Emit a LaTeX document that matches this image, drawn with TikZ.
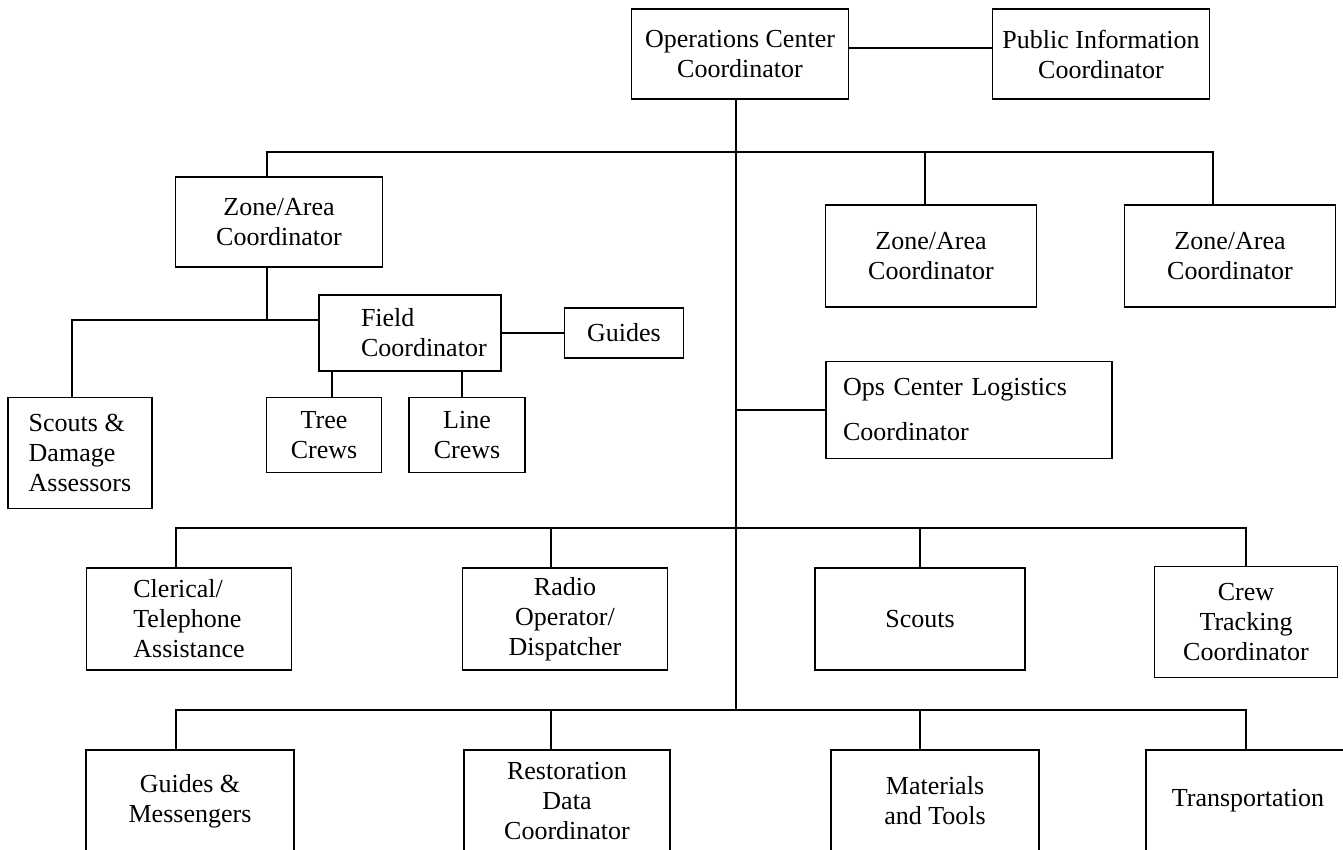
\documentclass[tikz,border=0pt]{standalone}
\usepackage{fontspec}
\setmainfont{Liberation Serif}
\hfuzz=100pt
\begin{document}
\begin{tikzpicture}[x=1pt,y=-1pt,font=\fontsize{26}{30}\selectfont]
        \tikzstyle{post}=[rectangle,draw=black,line width=1.5pt,inner sep=0pt,align=center]
        \tikzstyle{edge}=[draw,line width=1.5pt]
        \useasboundingbox (0,0) rectangle (1343,850);

        % top of the chart
        \node [post,minimum width=217pt,minimum height=90pt] (ops) at (740,54) {Operations Center\\Coordinator};
        \node [post,minimum width=217pt,minimum height=90pt] (pub) at (1101,54) {Public Information\\Coordinator};

        % zone coordinators
        \node [post,minimum width=207pt,minimum height=90pt] (zone1) at (279,222) {Zone/Area\\Coordinator};
        \node [post,minimum width=211pt,minimum height=102pt] (zone2) at (931,256) {Zone/Area\\Coordinator};
        \node [post,minimum width=211pt,minimum height=102pt] (zone3) at (1230,256) {Zone/Area\\Coordinator};

        % field level
        \node [post,minimum width=182pt,minimum height=76pt,align=left,text width=98pt,inner xsep=42pt] (field) at (410,333) {Field\\Coordinator};
        \node [post,minimum width=119pt,minimum height=50pt] (guides) at (624,333) {Guides};
        \node [post,minimum width=115pt,minimum height=75pt] (tree) at (324,435) {Tree\\Crews};
        \node [post,minimum width=116pt,minimum height=75pt] (line) at (467,435) {Line\\Crews};
        \node [post,minimum width=144pt,minimum height=111pt,align=left] (sda) at (80,453) {Scouts \&\\Damage\\Assessors};
        \node [post,minimum width=286pt,minimum height=97pt,align=left,text width=252pt,inner xsep=17pt] (logis) at (969,410) {Ops Center Logistics\\[15pt]Coordinator};

        % support row
        \node [post,minimum width=205pt,minimum height=102pt,align=left] (cler) at (189,619) {Clerical/\\Telephone\\Assistance};
        \node [post,minimum width=205pt,minimum height=102pt] (radio) at (565,619) {Radio\\Operator/\\Dispatcher};
        \node [post,minimum width=210pt,minimum height=102pt] (scouts) at (920,619) {Scouts};
        \node [post,minimum width=183pt,minimum height=111pt] (crew) at (1246,622) {Crew\\Tracking\\Coordinator};

        % bottom row (cut by the page)
        \node [post,minimum width=208pt,minimum height=102pt] (gm) at (190,801) {Guides \&\\Messengers};
        \node [post,minimum width=206pt,minimum height=102pt] (rest) at (567,801) {Restoration\\Data\\Coordinator};
        \node [post,minimum width=208pt,minimum height=102pt] (mat) at (935,801) {Materials\\and Tools};
        \node [post,minimum width=204pt,minimum height=102pt] (trans) at (1248,801) {Transportation};

        \coordinate (tb) at (736,710);
        \coordinate (z1) at (267,152);
        \coordinate (z2) at (925,152);
        \coordinate (z3) at (1213,152);
        \coordinate (f0) at (267,320);
        \coordinate (f1) at (72,320);
        \coordinate (tc) at (332,398);
        \coordinate (lc) at (462,398);
        \coordinate (m1) at (176,528);
        \coordinate (m2) at (551,528);
        \coordinate (m3) at (920,528);
        \coordinate (m4) at (1246,528);
        \coordinate (b1) at (176,710);
        \coordinate (b2) at (551,710);
        \coordinate (b3) at (920,710);
        \coordinate (b4) at (1246,710);

        \path[edge] ([yshift=6pt]ops.east) -- ([yshift=6pt]pub.west);
        \path[edge] (ops.south -| tb) -- (tb);
        \path[edge] (z1 |- zone1.north) -- (z1) -- (z3) -- (z3 |- zone3.north);
        \path[edge] (z2) -- (z2 |- zone2.north);
        \path[edge] (z1 |- zone1.south) -- (f0);
        \path[edge] (f1 |- sda.north) -- (f1) -- (f1 -| field.west);
        \path[edge] (field.east) -- (guides.west);
        \path[edge] (tc |- field.south) -- (tc |- tree.north);
        \path[edge] (lc |- field.south) -- (lc |- line.north);
        \path[edge] (logis.west) -- (logis.west -| tb);
        \path[edge] (m1 |- cler.north) -- (m1) -- (m4) -- (m4 |- crew.north);
        \path[edge] (m2) -- (m2 |- radio.north);
        \path[edge] (m3) -- (m3 |- scouts.north);
        \path[edge] (b1 |- gm.north) -- (b1) -- (b4) -- (b4 |- trans.north);
        \path[edge] (b2) -- (b2 |- rest.north);
        \path[edge] (b3) -- (b3 |- mat.north);
\end{tikzpicture}
\end{document}
